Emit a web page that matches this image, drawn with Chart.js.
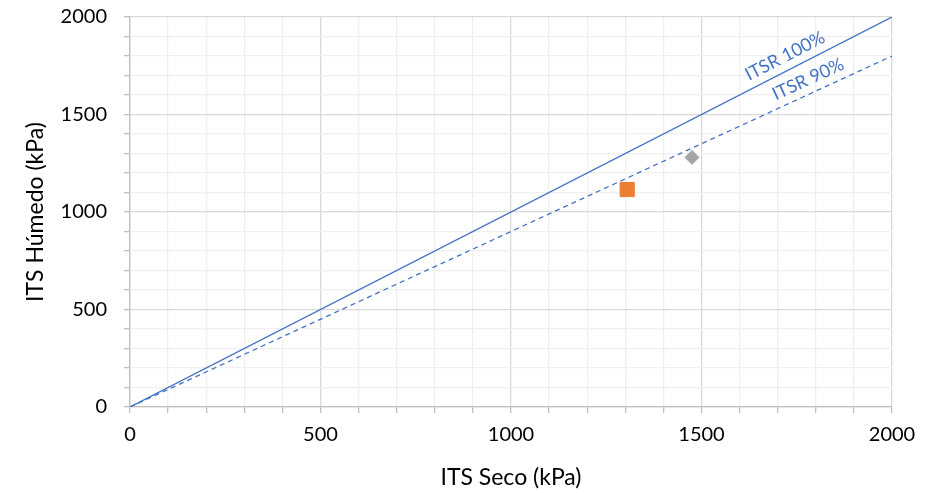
<!DOCTYPE html>
<html>
<head>
<meta charset="utf-8">
<script src="https://cdn.jsdelivr.net/npm/chart.js@4.4.1/dist/chart.umd.min.js"></script>
<style>
  html, body { margin: 0; padding: 0; background: #fff; }
  #wrap { width: 945px; height: 493px; }
</style>
</head>
<body>
<div id="wrap"><canvas id="itsr"></canvas></div>
<script>
// valores
const itsSeco = [1305, 1475];
const itsHumedo = [1115, 1280];
const lineSeco = [0, 2000];
const itsr100 = [0, 2000];
const itsr90 = [0, 1800];
const tickMajor = [0, 500, 1000, 1500, 2000];

const blue = "#4472C4";
const fontFam = "Lato, 'Open Sans', sans-serif";

const pts = (xs, ys) => xs.map((x, i) => ({ x: x, y: ys[i] }));

// etiquetas giradas sobre las rectas
const lineLabels = {
  id: "lineLabels",
  afterDatasetsDraw(chart) {
    const { ctx, scales } = chart;
    const items = [
      { text: "ITSR 100%", ratio: itsr100[1] / lineSeco[1], at: 1736, off: 14 },
      { text: "ITSR 90%", ratio: itsr90[1] / lineSeco[1], at: 1795, off: 14 },
    ];
    ctx.save();
    ctx.fillStyle = blue;
    ctx.font = "18px " + fontFam;
    ctx.textAlign = "center";
    ctx.textBaseline = "middle";
    items.forEach(it => {
      const x0 = scales.x.getPixelForValue(0), y0 = scales.y.getPixelForValue(0);
      const x1 = scales.x.getPixelForValue(2000), y1 = scales.y.getPixelForValue(2000 * it.ratio);
      const ang = Math.atan2(y1 - y0, x1 - x0);
      const px = scales.x.getPixelForValue(it.at);
      const py = scales.y.getPixelForValue(it.at * it.ratio);
      ctx.save();
      ctx.translate(px + Math.sin(ang) * it.off, py - Math.cos(ang) * it.off);
      ctx.rotate(ang);
      ctx.fillText(it.text, 0, 0);
      ctx.restore();
    });
    ctx.restore();
  }
};

const gridColor = c => (tickMajor.includes(c.tick.value) ? "#d9d9d9" : "#f0f0f0");

new Chart(document.getElementById("itsr"), {
  type: "scatter",
  data: {
    datasets: [
      {
        label: "Mezcla 1",
        data: [{ x: itsSeco[0], y: itsHumedo[0] }],
        pointStyle: "rect",
        pointRadius: 10,
        backgroundColor: "#ED7D31",
        borderColor: "#ED7D31",
        order: 0,
      },
      {
        label: "Mezcla 2",
        data: [{ x: itsSeco[1], y: itsHumedo[1] }],
        pointStyle: "rectRot",
        pointRadius: 7,
        backgroundColor: "#A5A5A5",
        borderColor: "#A5A5A5",
        order: 0,
      },
      {
        label: "ITSR 100%",
        data: pts(lineSeco, itsr100),
        showLine: true,
        borderColor: blue,
        borderWidth: 1.3,
        pointRadius: 0,
        order: 1,
      },
      {
        label: "ITSR 90%",
        data: pts(lineSeco, itsr90),
        showLine: true,
        borderColor: blue,
        borderWidth: 1.3,
        borderDash: [5, 4],
        pointRadius: 0,
        order: 1,
      },
    ]
  },
  options: {
    responsive: true,
    maintainAspectRatio: false,
    animation: false,
    layout: { padding: { top: 17, right: 53, left: 0, bottom: 0 } },
    plugins: {
      legend: { display: false },
      tooltip: { enabled: false },
    },
    scales: {
      x: {
        type: "linear",
        min: 0,
        max: 2000,
        afterFit: s => { s.height = 86; s.paddingLeft = 0; s.paddingRight = 0; },
        border: { color: "#bfbfbf", width: 1.3 },
        grid: { color: gridColor, tickColor: "#bfbfbf", tickLength: 6, lineWidth: 1.3 },
        ticks: {
          stepSize: 100,
          autoSkip: false,
          maxRotation: 0,
          padding: 10,
          color: "#000",
          font: { family: fontFam, size: 20 },
          callback: v => (tickMajor.includes(v) ? v : ""),
        },
        title: {
          display: true,
          text: "ITS Seco (kPa)",
          color: "#000",
          font: { family: fontFam, size: 23 },
          padding: { top: 0, bottom: 2 },
        },
      },
      y: {
        type: "linear",
        min: 0,
        max: 2000,
        afterFit: s => { s.width = 130; s.paddingTop = 0; s.paddingBottom = 0; },
        border: { color: "#bfbfbf", width: 1.3 },
        grid: { color: gridColor, tickColor: "#bfbfbf", tickLength: 6, lineWidth: 1.3 },
        ticks: {
          stepSize: 100,
          autoSkip: false,
          padding: 17,
          color: "#000",
          font: { family: fontFam, size: 20 },
          callback: v => (tickMajor.includes(v) ? v : ""),
        },
        title: {
          display: true,
          text: "ITS Húmedo (kPa)",
          color: "#000",
          font: { family: fontFam, size: 23 },
          padding: { top: 22, bottom: 0 },
        },
      },
    },
  },
  plugins: [lineLabels],
});
</script>
</body>
</html>
